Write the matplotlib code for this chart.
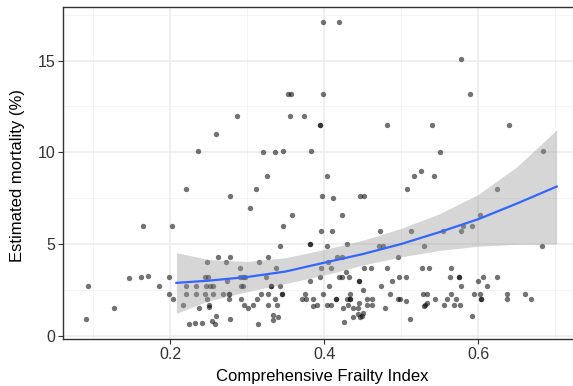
import matplotlib
matplotlib.use("Agg")
import matplotlib.pyplot as plt
from matplotlib.ticker import MultipleLocator

plt.rcParams['font.family'] = ['Liberation Sans', 'DejaVu Sans']

# Scatter data: Comprehensive Frailty Index vs estimated mortality (%)
cfi = [
    0.399, 0.419, 0.578, 0.353, 0.357, 0.398, 0.589, 0.287, 0.355, 0.374,
    0.259, 0.394, 0.394, 0.482, 0.540, 0.640, 0.236, 0.321, 0.336, 0.346,
    0.383, 0.550, 0.684, 0.526, 0.326, 0.404, 0.517, 0.542,
    0.220, 0.311, 0.507, 0.625, 0.277, 0.397, 0.412, 0.446, 0.452, 0.303,
    0.358, 0.423, 0.602, 0.165, 0.202, 0.347, 0.580, 0.592, 0.396, 0.410,
    0.473, 0.513, 0.554, 0.578, 0.381, 0.381, 0.430, 0.343, 0.404, 0.471,
    0.476, 0.530, 0.683, 0.262, 0.278, 0.327, 0.417, 0.423, 0.496, 0.248,
    0.272, 0.315, 0.405, 0.290, 0.338, 0.396, 0.409, 0.452, 0.461, 0.481,
    0.527, 0.536, 0.565, 0.428,
    0.147, 0.162, 0.171, 0.198, 0.245, 0.249, 0.290, 0.295, 0.297, 0.324,
    0.394, 0.419, 0.423, 0.432, 0.497, 0.506, 0.564, 0.575, 0.575, 0.606,
    0.625,
    0.274, 0.381, 0.445, 0.445, 0.488, 0.600,
    0.093, 0.185, 0.220, 0.234, 0.247, 0.252, 0.255, 0.292, 0.295, 0.331,
    0.331, 0.343, 0.406, 0.474, 0.578, 0.611, 0.451,
    0.199, 0.220, 0.234, 0.245, 0.256, 0.269, 0.276, 0.276, 0.318, 0.327,
    0.345, 0.345, 0.375, 0.398, 0.434, 0.486, 0.528, 0.533, 0.565, 0.594,
    0.602, 0.638, 0.661,
    0.204, 0.248, 0.276, 0.292, 0.313, 0.336, 0.371, 0.376, 0.386, 0.415,
    0.415, 0.430, 0.433, 0.433, 0.456, 0.462, 0.496, 0.499, 0.506, 0.544,
    0.560, 0.571, 0.604, 0.604, 0.638, 0.669,
    0.217, 0.251, 0.296, 0.308, 0.327, 0.339, 0.385, 0.391, 0.404, 0.409,
    0.431, 0.445, 0.456, 0.462, 0.530, 0.531, 0.534, 0.556, 0.569, 0.577,
    0.127, 0.237, 0.250, 0.301, 0.424, 0.437, 0.444, 0.479,
    0.259, 0.333, 0.340, 0.450, 0.449, 0.444, 0.437, 0.446, 0.592, 0.091,
    0.278, 0.511, 0.333, 0.254, 0.426, 0.258, 0.224, 0.232, 0.241, 0.314,
]
mortality = [
    17.10, 17.10, 15.10, 13.19, 13.19, 13.19, 13.19, 11.99, 11.99, 11.99,
    10.99, 11.49, 11.49, 11.49, 11.49, 11.49, 10.09, 10.00, 10.00, 10.09,
    10.09, 10.00, 10.09, 9.00, 8.71, 8.71, 8.71, 8.71,
    8.00, 8.00, 8.00, 8.00, 7.60, 7.60, 7.51, 7.60, 7.60, 6.98,
    6.60, 6.60, 6.60, 6.00, 6.00, 5.98, 5.98, 5.98, 5.69, 5.69,
    5.69, 5.69, 5.69, 5.69, 5.00, 5.00, 5.00, 4.89, 4.89, 4.89,
    4.89, 4.89, 4.89, 4.29, 4.29, 4.29, 4.29, 4.29, 4.29, 4.00,
    4.00, 4.00, 4.00, 3.69, 3.69, 3.69, 3.69, 3.69, 3.69, 3.69,
    3.69, 3.69, 3.69, 3.46,
    3.16, 3.20, 3.26, 3.20, 3.20, 3.20, 3.20, 3.20, 3.20, 3.20,
    3.20, 3.20, 3.20, 3.20, 3.20, 3.20, 3.20, 3.20, 3.20, 3.20,
    3.20,
    3.00, 3.00, 3.00, 3.00, 3.00, 3.00,
    2.69, 2.69, 2.69, 2.69, 2.69, 2.69, 2.69, 2.69, 2.69, 2.69,
    2.69, 2.69, 2.69, 2.69, 2.69, 2.69, 2.51,
    2.29, 2.29, 2.29, 2.29, 2.29, 2.29, 2.29, 2.29, 2.29, 2.29,
    2.29, 2.29, 2.29, 2.29, 2.29, 2.29, 2.29, 2.29, 2.29, 2.29,
    2.29, 2.29, 2.29,
    2.00, 2.00, 2.00, 2.00, 2.00, 2.00, 2.00, 2.00, 2.00, 2.00,
    2.00, 2.00, 2.00, 2.00, 2.00, 2.00, 2.00, 2.00, 1.90, 2.00,
    2.00, 2.00, 2.00, 2.00, 2.00, 2.00,
    1.69, 1.69, 1.69, 1.69, 1.69, 1.69, 1.64, 1.69, 1.69, 1.69,
    1.69, 1.80, 1.69, 1.69, 1.64, 1.69, 1.77, 1.69, 1.69, 1.69,
    1.51, 1.51, 1.57, 1.51, 1.51, 1.51, 1.51, 1.51,
    1.09, 1.15, 1.02, 1.22, 1.09, 1.17, 1.02, 1.02, 1.07, 0.91,
    0.93, 0.93, 0.84, 0.78, 0.75, 0.64, 0.64, 0.69, 0.69, 0.64,
]

# Smoothed trend and confidence band
smooth_x = [0.208, 0.25, 0.30, 0.35, 0.40, 0.45, 0.50, 0.55, 0.60, 0.65, 0.702]
smooth_y = [2.88, 3.00, 3.20, 3.50, 3.98, 4.45, 5.00, 5.65, 6.35, 7.20, 8.13]
band_lo = [1.22, 1.90, 2.40, 2.85, 3.30, 3.85, 4.30, 4.65, 4.88, 4.98, 5.00]
band_hi = [4.53, 4.15, 4.05, 4.25, 4.70, 5.20, 5.85, 6.65, 7.70, 9.20, 11.22]

x_ticks = [0.2, 0.4, 0.6]
y_ticks = [0, 5, 10, 15]

W, H = 573, 386
fig = plt.figure(figsize=(W / 100, H / 100), dpi=100)
fig.patch.set_facecolor('white')
left_px, right_px, top_px, bottom_px = 63, 579, 7, 339
ax = fig.add_axes([left_px / W, 1 - bottom_px / H,
                   (right_px - left_px) / W, (bottom_px - top_px) / H])
ax.set_facecolor('white')

ax.scatter(cfi, mortality, s=15, color='black', alpha=0.55, linewidths=0, zorder=3)
ax.fill_between(smooth_x, band_lo, band_hi, color='#999999', alpha=0.4,
                linewidth=0, zorder=4)
ax.plot(smooth_x, smooth_y, color='#3366FF', linewidth=1.6, zorder=5)

ax.set_xlim(0.0607, 0.731)
ax.set_ylim(-0.18, 17.92)
ax.set_xticks(x_ticks)
ax.set_xticklabels([f"{v:.1f}" for v in x_ticks])
ax.set_yticks(y_ticks)
ax.set_yticklabels([str(v) for v in y_ticks])
ax.xaxis.set_minor_locator(MultipleLocator(0.1))
ax.yaxis.set_minor_locator(MultipleLocator(2.5))

ax.grid(which='major', color='#EBEBEB', linewidth=1.1, zorder=0)
ax.grid(which='minor', color='#F2F2F2', linewidth=0.6, zorder=0)
ax.set_axisbelow(True)
ax.tick_params(which='minor', length=0)
ax.tick_params(which='major', length=3.5, width=0.8, color='#333333',
               labelsize=11.5, labelcolor='#333333', pad=2)
for sp in ax.spines.values():
    sp.set_color('#333333')
    sp.set_linewidth(1.0)

fig.text(322 / W, 1 - 377 / H, 'Comprehensive Frailty Index', ha='center',
         va='center', fontsize=12, color='black')
fig.text(18 / W, 1 - 176 / H, 'Estimated mortality (%)', ha='center',
         va='center', rotation=90, fontsize=12, color='black')

fig.savefig('out.png', dpi=100, facecolor='white')
